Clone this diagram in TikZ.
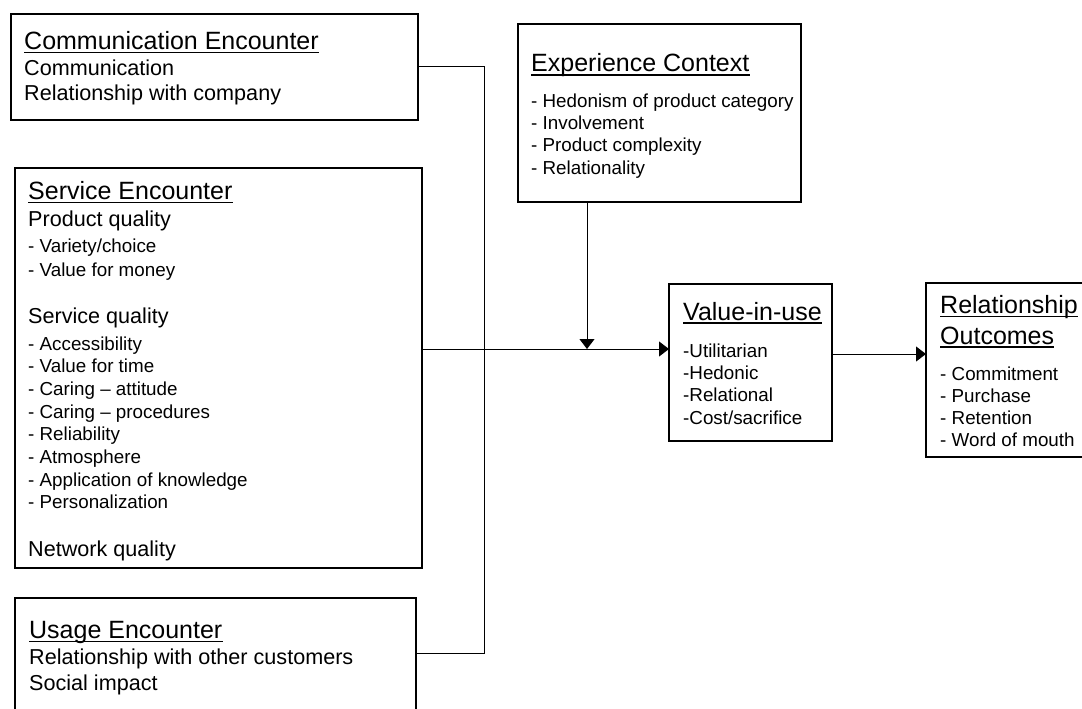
\documentclass[tikz,border=0pt]{standalone}
\usepackage{fontspec}
\setmainfont{Liberation Sans}
\usetikzlibrary{arrows.meta}

\newcommand\underhead[1]{\draw[uline] ([yshift=-3.2pt]#1.base west) -- ([yshift=-3.2pt]#1.base east);}

\begin{document}
\begin{tikzpicture}[x=1pt, y=-1pt,
  box/.style={draw, line width=1.4pt, inner sep=0pt, outer sep=0pt, anchor=north west},
  link/.style={line width=1pt},
  arrow/.style={link, -{Triangle[length=10pt, width=15pt]}},
  head/.style={inner sep=0pt, anchor=base west, font=\fontsize{25}{28}\selectfont},
  body/.style={inner sep=0pt, anchor=base west, font=\fontsize{21.6}{24}\selectfont},
  item/.style={inner sep=0pt, anchor=base west, font=\fontsize{18.8}{21}\selectfont},
  uline/.style={line width=1.5pt}]

  \useasboundingbox (0,0) rectangle (1082,709);
  \clip (0,0) rectangle (1082,709);

  %% boxes
  \node[box, minimum width=407pt, minimum height=106pt] (comm) at (11,14) {};
  \node[box, minimum width=407pt, minimum height=400pt] (serv) at (15,168) {};
  \node[box, minimum width=401pt, minimum height=140pt] (usage) at (15,598) {};
  \node[box, minimum width=283pt, minimum height=178pt] (exp) at (518,24) {};
  \node[box, minimum width=163pt, minimum height=157pt] (value) at (669,284) {};
  \node[box, minimum width=180pt, minimum height=174pt] (rel) at (926,283) {};

  %% communication encounter
  \node[head] (commT) at (24,49.5) {Communication Encounter};
  \underhead{commT}
  \node[body] (comm1) at (24,76) {Communication};
  \node[body] (comm2) at (24,100) {Relationship with company};

  %% service encounter
  \node[head] (servT) at (28,199.5) {Service Encounter};
  \underhead{servT}
  \node[body] (pq) at (28,226) {Product quality};
  \node[item] (pq1) at (28,252.7) {- Variety/choice};
  \node[item] (pq2) at (28,276.7) {- Value for money};
  \node[body] (sq) at (28,323) {Service quality};
  \foreach \t [count=\i] in {Accessibility, Value for time, Caring – attitude,
    Caring – procedures, Reliability, Atmosphere, Application of knowledge,
    Personalization}
    \node[item] (sq\i) at (28,{350+22.7*(\i-1)}) {- \t};
  \node[body] (nq) at (28,556) {Network quality};

  %% usage encounter
  \node[head] (usageT) at (29,638.3) {Usage Encounter};
  \underhead{usageT}
  \node[body] (usage1) at (29,664) {Relationship with other customers};
  \node[body] (usage2) at (29,690.5) {Social impact};

  %% experience context
  \node[head] (expT) at (531,71.7) {Experience Context};
  \underhead{expT}
  \foreach \t [count=\i] in {Hedonism of product category, Involvement,
    Product complexity, Relationality}
    \node[item] (exp\i) at (531,{107.5+22.2*(\i-1)}) {- \t};

  %% value-in-use
  \node[head] (valueT) at (683,320) {Value-in-use};
  \underhead{valueT}
  \foreach \t [count=\i] in {Utilitarian, Hedonic, Relational, Cost/sacrifice}
    \node[item] (value\i) at (683,{357.3+22.3*(\i-1)}) {-\t};

  %% relationship outcomes
  \node[head] (relT) at (940,313.5) {Relationship};
  \underhead{relT}
  \node[head] (relU) at (940,344) {Outcomes};
  \underhead{relU}
  \foreach \t [count=\i] in {Commitment, Purchase, Retention, Word of mouth}
    \node[item] (rel\i) at (940,{380+22.2*(\i-1)}) {- \t};

  %% connectors
  \coordinate (busTop) at (484,67);
  \coordinate (busBot) at (484,653);
  \coordinate (hub) at (587,349);
  \coordinate (out) at (880,354);

  \draw[link] (comm.east) -- (busTop) -- (busBot) -- (usage.east |- busBot);
  \draw[arrow] (serv.east |- hub) -- (value.west |- hub);
  \draw[arrow] (hub |- exp.south) -- (hub);
  \draw[arrow] (value.east |- out) -- (rel.west |- out);
\end{tikzpicture}
\end{document}
